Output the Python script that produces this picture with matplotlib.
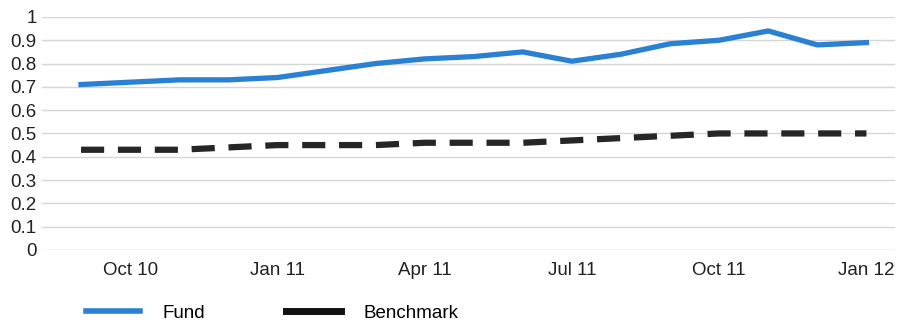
import matplotlib.pyplot as plt
from matplotlib.lines import Line2D
import numpy as np

plt.rcParams['font.family'] = ['Liberation Sans', 'DejaVu Sans']

# Monthly values, Sep 10 .. Jan 12
months = ['Sep 10', 'Oct 10', 'Nov 10', 'Dec 10', 'Jan 11', 'Feb 11', 'Mar 11',
          'Apr 11', 'May 11', 'Jun 11', 'Jul 11', 'Aug 11', 'Sep 11', 'Oct 11',
          'Nov 11', 'Dec 11', 'Jan 12']
fund = [0.71, 0.72, 0.73, 0.73, 0.74, 0.77, 0.80, 0.82, 0.83, 0.85, 0.81,
        0.84, 0.885, 0.90, 0.94, 0.88, 0.89]
benchmark = [0.43, 0.43, 0.43, 0.44, 0.45, 0.45, 0.45, 0.46, 0.46, 0.46, 0.47,
             0.48, 0.49, 0.50, 0.50, 0.50, 0.50]
tick_labels = ['Oct 10', 'Jan 11', 'Apr 11', 'Jul 11', 'Oct 11', 'Jan 12']
yticks = [0, 0.1, 0.2, 0.3, 0.4, 0.5, 0.6, 0.7, 0.8, 0.9, 1]

blue = '#2a80d2'
black = '#262626'
fs = 13.5

fig = plt.figure(figsize=(8.99, 3.2), dpi=100)
ax = fig.add_axes([0.047, 0.219, 0.949, 0.728])

x = np.arange(len(months))
ax.plot(x, fund, color=blue, lw=3.8, solid_joinstyle='round', zorder=3)
ax.plot(x, benchmark, color=black, lw=4.5, dashes=(3.7, 2.2),
        dash_capstyle='butt', zorder=3)

ax.set_ylim(0, 1)
ax.set_xlim(-0.79, 16.59)
ax.set_yticks(yticks)
ax.set_yticklabels(['0' if v == 0 else ('1' if v == 1 else '%.1f' % v) for v in yticks])
ax.set_xticks([months.index(m) for m in tick_labels])
ax.set_xticklabels(tick_labels)
ax.tick_params(axis='both', length=0, labelsize=fs, colors='#222222')
ax.tick_params(axis='y', pad=4)
ax.tick_params(axis='x', pad=9)
ax.grid(axis='y', color='#d6d6d6', lw=1)
ax.set_axisbelow(True)
for s in ax.spines.values():
    s.set_visible(False)

handles = [Line2D([], [], color=blue, lw=4),
           Line2D([], [], color='#111111', lw=5)]
fig.legend(handles, ['Fund', 'Benchmark'], loc='center left',
           bbox_to_anchor=(0.0957, 0.022), ncol=2, frameon=False,
           fontsize=fs, handlelength=2.9, handletextpad=1.2,
           columnspacing=4.3, borderpad=0, borderaxespad=0)

fig.savefig('out.png', dpi=100)
